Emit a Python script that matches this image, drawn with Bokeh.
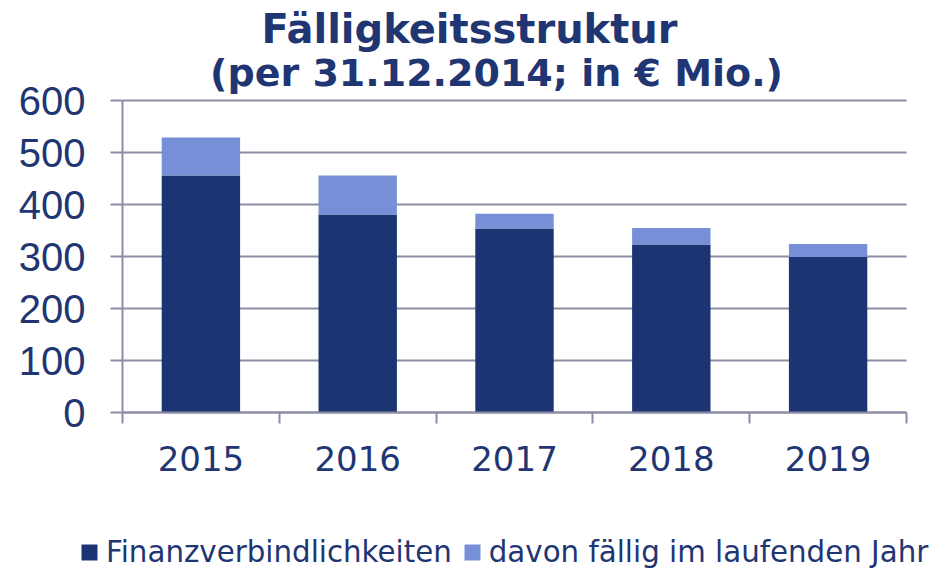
from bokeh.plotting import figure
from bokeh.models import (ColumnDataSource, Range1d, FixedTicker, Legend, LegendItem, Label)
from bokeh.embed import file_html
from bokeh.resources import INLINE

# ---- data ----
years = ["2015", "2016", "2017", "2018", "2019"]
finanzverbindlichkeiten = [456, 381, 354, 323, 299]
davon_faellig = [73, 75, 28, 32, 25]
y_ticks = [0, 100, 200, 300, 400, 500, 600]
title_line1 = "Fälligkeitsstruktur"
title_line2 = "(per 31.12.2014; in € Mio.)"
series_names = ["Finanzverbindlichkeiten", "davon fällig im laufenden Jahr"]

NAVY_TEXT = "#1F3673"
DARK = "#1D3473"
LIGHT = "#778FD6"
GRID = "#8B8DA6"

# ---- layout (pixels of the 950x570 canvas) ----
W, H = 950, 570
PLOT_L, PLOT_R = 122, 906      # value area left/right
PLOT_T, PLOT_B = 100, 412      # value area top/bottom
n = len(years)
y_max = y_ticks[-1]
px_x = (PLOT_R - PLOT_L) / n
px_y = (PLOT_B - PLOT_T) / y_max
x_range = Range1d(-PLOT_L / px_x, n + (W - PLOT_R) / px_x)
y_range = Range1d(-(H - PLOT_B) / px_y, y_max + PLOT_T / px_y)

xpos = [i + 0.5 for i in range(n)]
src = ColumnDataSource(dict(x=xpos, fin=finanzverbindlichkeiten, davon=davon_faellig))

p = figure(width=W, height=H, output_backend="svg", toolbar_location=None,
           x_range=x_range, y_range=y_range, min_border=0)
p.outline_line_color = None
p.background_fill_color = "white"
p.border_fill_color = "white"

renderers = p.vbar_stack(["fin", "davon"], x="x", width=0.5, source=src,
                         color=[DARK, LIGHT], line_color=None)

# x axis at value 0: ticks at category boundaries, labels in the middle
xa = p.xaxis[0]
xa.fixed_location = 0
xa.bounds = (0, n)
xa.ticker = FixedTicker(ticks=xpos, minor_ticks=list(range(n + 1)))
xa.major_label_overrides = {x: y for x, y in zip(xpos, years)}
xa.major_tick_out = 0
xa.major_tick_in = 0
xa.minor_tick_out = 11
xa.minor_tick_in = 0
xa.minor_tick_line_color = GRID
xa.minor_tick_line_width = 2
xa.axis_line_color = GRID
xa.axis_line_width = 2
xa.major_label_text_font = "DejaVu Sans"
xa.major_label_text_font_size = "34px"
xa.major_label_text_color = NAVY_TEXT
xa.major_label_standoff = 22

ya = p.yaxis[0]
ya.fixed_location = 0
ya.bounds = (0, y_max)
ya.ticker = FixedTicker(ticks=y_ticks)
ya.major_tick_out = 12
ya.major_tick_in = 0
ya.minor_tick_out = 0
ya.minor_tick_in = 0
ya.major_tick_line_color = GRID
ya.major_tick_line_width = 2
ya.axis_line_color = GRID
ya.axis_line_width = 2
ya.major_label_text_font = "Liberation Sans"
ya.major_label_text_font_size = "40px"
ya.major_label_text_color = NAVY_TEXT
ya.major_label_standoff = 25

p.xgrid.grid_line_color = None
p.ygrid.grid_line_color = GRID
p.ygrid.grid_line_width = 2
p.ygrid.bounds = (0, y_max)
p.ygrid.cross_bounds = (0, n)

# title lines (screen units from the frame's bottom-left = canvas bottom-left)
for txt, cx, top, size in [(title_line1, 469, 28, "40px"), (title_line2, 496, 72, "38px")]:
    p.add_layout(Label(x=cx, y=H - top, x_units="screen", y_units="screen",
                       text=txt, text_align="center", text_baseline="alphabetic",
                       text_font="DejaVu Sans", text_font_style="bold",
                       text_font_size=size, text_color=NAVY_TEXT))

legend = Legend(items=[LegendItem(label=series_names[0], renderers=[renderers[0]]),
                       LegendItem(label=series_names[1], renderers=[renderers[1]])],
                orientation="horizontal", location=(79, 1),
                glyph_width=20, glyph_height=20, label_standoff=7, spacing=10,
                padding=0, margin=0, border_line_color=None, background_fill_alpha=0,
                label_text_font="DejaVu Sans", label_text_font_size="29.3px",
                label_text_color=NAVY_TEXT)
p.add_layout(legend)

open("out.html", "w").write(file_html(p, INLINE))
